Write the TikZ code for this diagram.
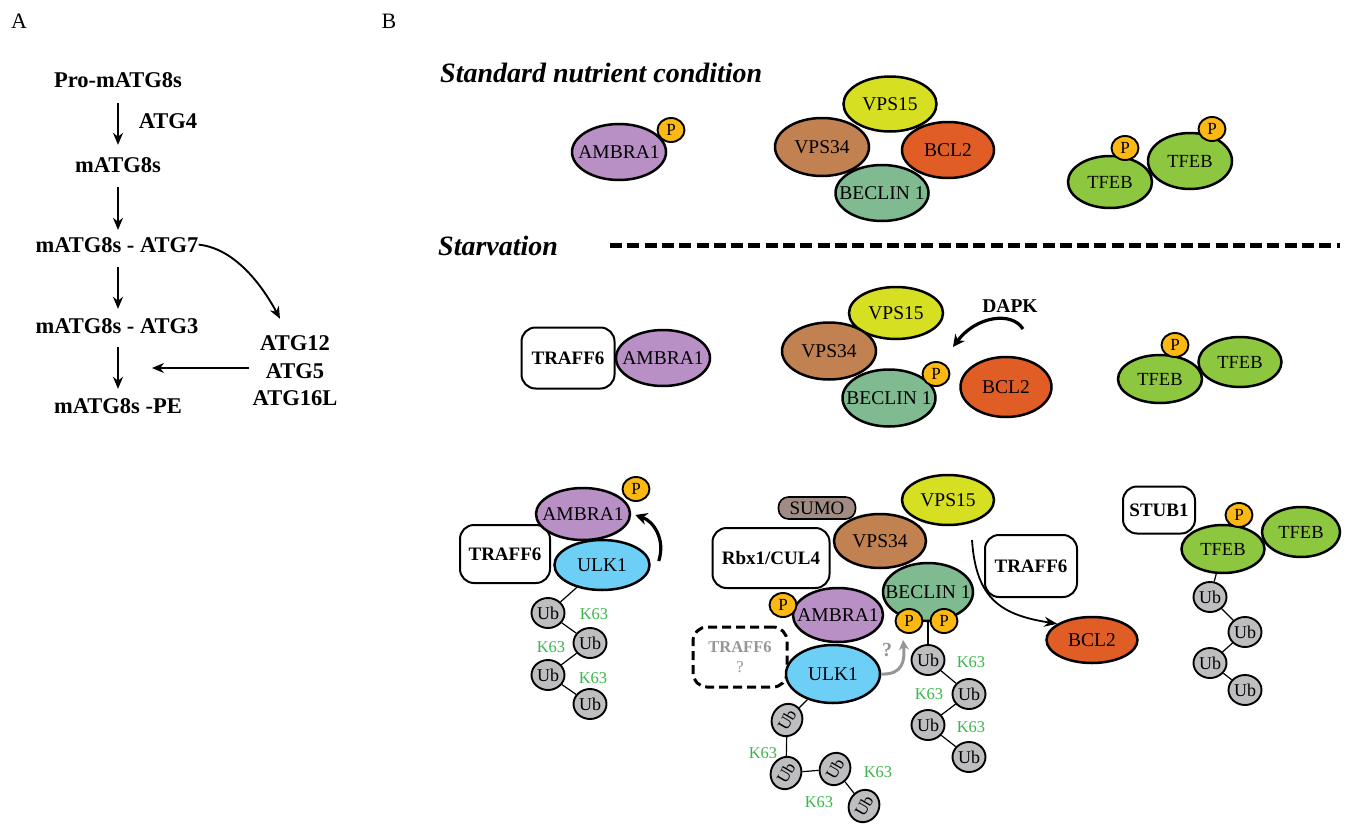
\documentclass[tikz,border=0pt]{standalone}
\usepackage{fontspec}
\setmainfont{Liberation Serif}
\usetikzlibrary{shapes.geometric,arrows.meta,calc}
\newcommand\pxf[1]{\fontsize{#1}{#1}\selectfont}
\newcommand\zw[1]{\makebox[0pt]{#1}}
\definecolor{ambc}{RGB}{184,144,198}
\definecolor{pcol}{RGB}{253,185,19}
\definecolor{v15c}{RGB}{215,223,35}
\definecolor{v34c}{RGB}{193,129,80}
\definecolor{bclc}{RGB}{224,93,38}
\definecolor{becc}{RGB}{127,186,145}
\definecolor{tfc}{RGB}{141,198,63}
\definecolor{ulkc}{RGB}{109,207,246}
\definecolor{ubc}{RGB}{190,190,192}
\definecolor{sumoc}{RGB}{160,140,132}
\definecolor{kgreen}{RGB}{57,181,74}
\definecolor{qgray}{RGB}{150,150,150}
\begin{document}
\begin{tikzpicture}[x=1pt,y=-1pt,
  prot/.style={ellipse,draw=black,line width=2.5pt,inner sep=0pt,font=\pxf{19.5}},
  sz/.style 2 args={minimum width=#1,minimum height=#2},
  ph/.style={ellipse,draw=black,fill=pcol,line width=1.9pt,inner sep=0pt,minimum width=27,minimum height=24,font=\pxf{17}},
  ub/.style={ellipse,draw=black,fill=ubc,line width=1.9pt,inner sep=0pt,minimum width=33,minimum height=30,font=\pxf{18}},
  rbox/.style={rectangle,rounded corners=14pt,draw=black,fill=white,line width=2pt,inner sep=0pt,font=\bfseries\pxf{19}},
  k63/.style={text=kgreen,font=\pxf{16.5},inner sep=0pt},
  lblA/.style={font=\bfseries\pxf{22.5},inner sep=0pt,anchor=base},
  arrA/.style={line width=1.9pt,-{Stealth[length=12pt,width=10pt]}},
  thk/.style={line width=3.2pt,-{Stealth[length=12pt,width=12pt]}},
  link/.style={line width=1.2pt}]
\useasboundingbox (0,0) rectangle (1353,830);

% ---------------- Panel A ----------------
\node[font=\pxf{22},inner sep=0pt] (labA) at (19,21) {A};
\node[font=\pxf{22},inner sep=0pt] (labB) at (389,21) {B};
\node[lblA] (pro) at (118,87) {Pro-mATG8s};
\node[lblA] (atg4) at (168,128) {ATG4};
\node[lblA] (m8) at (118,172) {mATG8s};
\node[lblA] (a7) at (117,252) {mATG8s - ATG7};
\node[lblA] (a3) at (117,333) {mATG8s - ATG3};
\node[lblA] (pe) at (118,413) {mATG8s -PE};
\node[font=\bfseries\fontsize{22.5}{27.5}\selectfont,inner sep=0pt,align=center] (atg) at (295,371) {ATG12\\ATG5\\ATG16L};
\coordinate (join) at (152,368);
\draw[arrA,shorten <=16pt,shorten >=12pt] (pro.south) -- (m8.north);
\draw[arrA,shorten <=15pt,shorten >=7pt] (m8.south) -- (m8.south |- a7.north);
\draw[arrA,shorten <=15pt,shorten >=9pt] (m8.south |- a7.south) -- (m8.south |- a3.north);
\draw[arrA,shorten <=14pt,shorten >=9pt] (m8.south |- a3.south) -- (m8.south |- pe.north);
\draw[arrA] (a7.east) .. controls +(38,4) and +(-16,-30) .. ($(atg.north)+(-15,-17)$);
\draw[arrA,shorten <=4pt] (atg.west |- join) -- (join);

% ---------------- Panel B titles ----------------
\node[font=\bfseries\itshape\pxf{28},anchor=base west,inner sep=0pt] (std) at (440,82) {Standard nutrient condition};
\node[font=\bfseries\itshape\pxf{28},anchor=base west,inner sep=0pt] (starv) at (438,255) {Starvation};
\draw[line width=5pt,dash pattern=on 12pt off 5.3pt] (610,245) -- (1340,245);

% ---------------- Top row ----------------
\node[prot,sz={94}{56},fill=ambc] (t_amb) at (619,152) {\zw{AMBRA1}};
\node[ph] (t_p) at (671,130) {P};
\node[prot,sz={93}{55},fill=v15c] (t_v15) at (890,104) {\zw{VPS15}};
\node[prot,sz={94}{58},fill=v34c] (t_v34) at (822,147) {\zw{VPS34}};
\node[prot,sz={92}{56},fill=bclc] (t_bcl) at (948,150) {\zw{BCL2}};
\node[prot,sz={93}{56},fill=becc] (t_bec) at (882,193) {\zw{BECLIN 1}};
\node[prot,sz={84}{52},fill=tfc,font=\pxf{18.5}] (t_tf1) at (1110,182) {\zw{TFEB}};
\node[ph] (t_p1) at (1125,148) {P};
\node[prot,sz={84}{56},fill=tfc,font=\pxf{18.5}] (t_tf2) at (1190,161) {\zw{TFEB}};
\node[ph] (t_p2) at (1212,129) {P};

% ---------------- Middle row ----------------
\node[rbox,minimum width=93,minimum height=61] (m_tr) at (568,358) {TRAFF6};
\node[prot,sz={94}{56},fill=ambc] (m_amb) at (663,358) {\zw{AMBRA1}};
\node[prot,sz={94}{52},fill=v15c] (m_v15) at (896,313) {\zw{VPS15}};
\node[prot,sz={94}{57},fill=v34c] (m_v34) at (829,351) {\zw{VPS34}};
\node[prot,sz={93}{57},fill=becc] (m_bec) at (889,398) {\zw{BECLIN 1}};
\node[ph] (m_p) at (936,374) {P};
\node[prot,sz={91}{60},fill=bclc] (m_bcl) at (1006,387) {\zw{BCL2}};
\node[font=\bfseries\pxf{19.5},inner sep=0pt] (m_dapk) at (1010,306) {DAPK};
\coordinate (dk1) at (1023,329);
\coordinate (dk2) at (953,347);
\draw[thk] (dk1) .. controls (1012,311) and (976,316) .. (dk2);
\node[prot,sz={84}{48},fill=tfc,font=\pxf{18.5}] (m_tf1) at (1160,379) {\zw{TFEB}};
\node[ph] (m_p1) at (1175,345) {P};
\node[prot,sz={83}{50},fill=tfc,font=\pxf{18.5}] (m_tf2) at (1240,362) {\zw{TFEB}};

% ---------------- Bottom left ----------------
\node[ub] (b_u1) at (548,613) {Ub};
\node[ub] (b_u2) at (590,643) {Ub};
\node[ub] (b_u3) at (548,675) {Ub};
\node[ub] (b_u4) at (590,704) {Ub};
\node[rbox,minimum width=90,minimum height=58] (b_tr) at (505,554) {TRAFF6};
\node[prot,sz={94}{52},fill=ambc] (b_amb) at (583,514) {\zw{AMBRA1}};
\node[ph] (b_p) at (636,489) {P};
\node[prot,sz={95}{50},fill=ulkc] (b_ulk) at (602,565) {\zw{ULK1}};
\draw[link] (b_ulk) -- (b_u1);
\draw[link] (b_u1) -- (b_u2);
\draw[link] (b_u2) -- (b_u3);
\draw[link] (b_u3) -- (b_u4);
\node[k63] (b_k1) at (594,614) {K63};
\node[k63] (b_k2) at (551,647) {K63};
\node[k63] (b_k3) at (593,678) {K63};
\draw[thk] ($(b_ulk.east)+(8,-4)$) .. controls +(7,-22) and +(18,6) .. ($(b_amb.east)+(4,1)$);

% ---------------- Bottom middle ----------------
\node[rbox,minimum width=77,minimum height=22,fill=sumoc,rounded corners=10pt,font=\pxf{19},line width=1.6pt] (b_sumo) at (817,508) {SUMO};
\node[prot,sz={92}{50},fill=v15c] (b_v15) at (948,500) {\zw{VPS15}};
\node[rbox,minimum width=117,minimum height=60] (b_rbx) at (771,558) {Rbx1/CUL4};
\node[prot,sz={92}{54},fill=v34c] (b_v34) at (880,541) {\zw{VPS34}};
% ubiquitin chain of BECLIN 1
\node[ub] (c_u1) at (928,660) {Ub};
\node[ub] (c_u2) at (969,694) {Ub};
\node[ub] (c_u3) at (928,725) {Ub};
\node[ub] (c_u4) at (969,757) {Ub};
\node[prot,sz={90}{58},fill=becc] (b_bec) at (928,592) {\zw{BECLIN 1}};
\draw[link] (b_bec) -- (c_u1);
\draw[link] (c_u1) -- (c_u2);
\draw[link] (c_u2) -- (c_u3);
\draw[link] (c_u3) -- (c_u4);
\node[ph] (b_pb1) at (909,621) {P};
\node[ph] (b_pb2) at (944,621) {P};
\node[k63] (c_k1) at (971,662) {K63};
\node[k63] (c_k2) at (929,694) {K63};
\node[k63] (c_k3) at (971,727) {K63};
\node[prot,sz={90}{54},fill=ambc] (b_amb2) at (838,615) {\zw{AMBRA1}};
\node[ph] (b_pa) at (783,605) {P};
\node[rbox,minimum width=94,minimum height=60,dash pattern=on 9pt off 5pt,line width=3pt,font=\pxf{16.5},text=qgray,align=center] (b_tq) at (740,657) {\textbf{TRAFF6}\\[4pt]?};
% ubiquitin chain of ULK1
\node[ub,rotate=60,font=\pxf{17}] (d_u1) at (787,720) {Ub};
\node[ub,rotate=60,font=\pxf{17}] (d_u2) at (786,773) {Ub};
\node[ub,rotate=60,font=\pxf{17}] (d_u3) at (835,769) {Ub};
\node[ub,rotate=60,font=\pxf{17}] (d_u4) at (864,806) {Ub};
\node[prot,sz={94}{58},fill=ulkc] (b_ulk2) at (833,674) {\zw{ULK1}};
\draw[link] (b_ulk2) -- (d_u1);
\draw[link] (d_u1) -- (d_u2);
\draw[link] (d_u2) -- (d_u3);
\draw[link] (d_u3) -- (d_u4);
\node[k63] (d_k1) at (763,753) {K63};
\node[k63] (d_k2) at (819,802) {K63};
\node[k63] (d_k3) at (878,772) {K63};
\draw[qgray,line width=3pt,-{Stealth[length=10pt,width=10pt]}] (b_ulk2.east) .. controls +(22,1) and +(2,20) .. ($(b_pb1.south)+(-6,6)$);
\node[text=qgray,font=\bfseries\pxf{20},inner sep=0pt] (b_q) at (887,650) {?};

% ---------------- Bottom right ----------------
\node[rbox,minimum width=92,minimum height=62] (b_tr2) at (1031,566) {TRAFF6};
\node[prot,sz={91}{46},fill=bclc] (b_bcl2) at (1092,640) {\zw{BCL2}};
\coordinate (tr_start) at (972,540);
\draw[line width=1.8pt,-{Stealth[length=13pt,width=10pt]}] (tr_start) .. controls (976,600) and (1002,615) .. (b_bcl2.155);
\node[rbox,minimum width=72,minimum height=47] (b_stub) at (1159,510) {STUB1};
\node[ub] (e_u1) at (1210,597) {Ub};
\node[ub] (e_u2) at (1245,632) {Ub};
\node[ub] (e_u3) at (1210,663) {Ub};
\node[ub] (e_u4) at (1245,690) {Ub};
\node[prot,sz={78}{50},fill=tfc,font=\pxf{18.5}] (b_tf2) at (1301,532) {\zw{TFEB}};
\node[prot,sz={83}{48},fill=tfc,font=\pxf{18.5}] (b_tf1) at (1223,549) {\zw{TFEB}};
\node[ph] (b_p3) at (1239,515) {P};
\draw[link] (b_tf1) -- (e_u1);
\draw[link] (e_u1) -- (e_u2);
\draw[link] (e_u2) -- (e_u3);
\draw[link] (e_u3) -- (e_u4);
\end{tikzpicture}
\end{document}
